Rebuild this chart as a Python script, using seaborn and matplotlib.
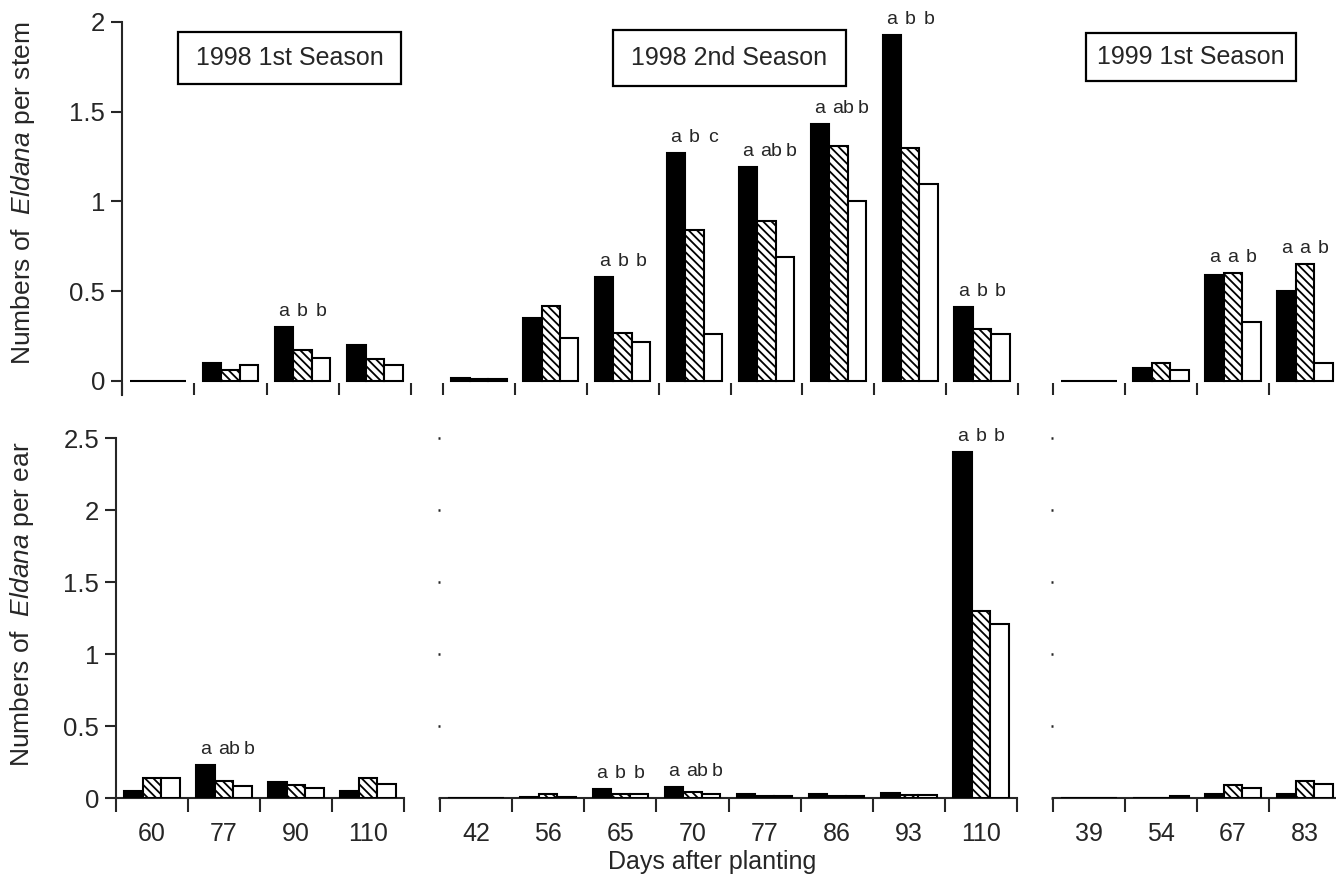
import numpy as np
import pandas as pd
import matplotlib
matplotlib.use("Agg")
import matplotlib.pyplot as plt
import seaborn as sns
from matplotlib.patches import Rectangle

# ---------------- data ----------------
days_98a = ["60", "77", "90", "110"]
days_98b = ["42", "56", "65", "70", "77", "86", "93", "110"]
days_99a = ["39", "54", "67", "83"]
treatments = ["Treatment 1", "Treatment 2", "Treatment 3"]  # black, hatched, white

# Numbers of Eldana per stem
stem_98a_t1 = [0.00, 0.10, 0.30, 0.20]
stem_98a_t2 = [0.00, 0.06, 0.17, 0.12]
stem_98a_t3 = [0.00, 0.09, 0.13, 0.09]

stem_98b_t1 = [0.015, 0.35, 0.58, 1.27, 1.19, 1.43, 1.93, 0.41]
stem_98b_t2 = [0.010, 0.42, 0.27, 0.84, 0.89, 1.31, 1.30, 0.29]
stem_98b_t3 = [0.010, 0.24, 0.22, 0.26, 0.69, 1.00, 1.10, 0.26]

stem_99a_t1 = [0.00, 0.07, 0.59, 0.50]
stem_99a_t2 = [0.00, 0.10, 0.60, 0.65]
stem_99a_t3 = [0.00, 0.06, 0.33, 0.10]

# Numbers of Eldana per ear
ear_98a_t1 = [0.05, 0.23, 0.11, 0.05]
ear_98a_t2 = [0.14, 0.12, 0.09, 0.14]
ear_98a_t3 = [0.14, 0.08, 0.07, 0.10]

ear_98b_t1 = [0.003, 0.005, 0.065, 0.075, 0.025, 0.025, 0.035, 2.40]
ear_98b_t2 = [0.003, 0.025, 0.025, 0.040, 0.015, 0.012, 0.020, 1.30]
ear_98b_t3 = [0.003, 0.010, 0.030, 0.030, 0.015, 0.015, 0.020, 1.21]

ear_99a_t1 = [0.00, 0.00, 0.03, 0.03]
ear_99a_t2 = [0.00, 0.00, 0.09, 0.12]
ear_99a_t3 = [0.00, 0.015, 0.07, 0.10]

# significance letters
letters_stem_98a = {"90": ["a", "b", "b"]}
letters_stem_98b = {"65": ["a", "b", "b"], "70": ["a", "b", "c"], "77": ["a", "ab", "b"],
                    "86": ["a", "ab", "b"], "93": ["a", "b", "b"], "110": ["a", "b", "b"]}
letters_stem_99a = {"67": ["a", "a", "b"], "83": ["a", "a", "b"]}
letters_ear_98a = {"77": ["a", "ab", "b"]}
letters_ear_98b = {"65": ["a", "b", "b"], "70": ["a", "ab", "b"], "110": ["a", "b", "b"]}
letters_ear_99a = {}

season_titles = ["1998 1st Season", "1998 2nd Season", "1999 1st Season"]
ylabel_stem = r"Numbers of  $\mathit{Eldana}$ per stem"
ylabel_ear = r"Numbers of  $\mathit{Eldana}$ per ear"
xlabel = "Days after planting"
stem_ticks = [0, 0.5, 1, 1.5, 2]
stem_ticklabels = ["0", "0.5", "1", "1.5", "2"]
ear_ticks = [0, 0.5, 1, 1.5, 2, 2.5]
ear_ticklabels = ["0", "0.5", "1", "1.5", "2", "2.5"]

# ---------------- style ----------------
sns.set_style("ticks")
plt.rcParams["font.family"] = ["Liberation Sans", "DejaVu Sans"]
plt.rcParams["mathtext.fontset"] = "custom"
plt.rcParams["mathtext.rm"] = "Liberation Sans"
plt.rcParams["mathtext.it"] = "Liberation Sans:italic"
plt.rcParams["hatch.linewidth"] = 1.3
plt.rcParams["axes.linewidth"] = 1.5

W, H = 1336, 877
fig = plt.figure(figsize=(W / 100, H / 100), dpi=100)


def rect(x0, y0, x1, y1):
    return [x0 / W, 1 - y1 / H, (x1 - x0) / W, (y1 - y0) / H]


def make_df(days, t1, t2, t3):
    rows = []
    for name, vals in zip(treatments, [t1, t2, t3]):
        for d, v in zip(days, vals):
            rows.append({"day": d, "value": v, "treatment": name})
    return pd.DataFrame(rows)


def draw(ax, days, t1, t2, t3, letters, ylim, top_row, show_yaxis):
    df = make_df(days, t1, t2, t3)
    sns.barplot(data=df, x="day", y="value", hue="treatment", order=days,
                hue_order=treatments, palette=["black", "white", "white"],
                edgecolor="black", linewidth=1.5, width=0.77, errorbar=None,
                legend=False, ax=ax, zorder=3)
    for p in ax.containers[1].patches:
        p.set_hatch("\\\\\\\\")
    n = len(days)
    ax.set_xlim(-0.5, n - 0.5)
    ax.set_ylim(*ylim)
    ax.set_xlabel("")
    ax.set_ylabel("")
    ax.set_xticks(np.arange(n + 1) - 0.5)
    ax.set_xticklabels([""] * (n + 1))
    for s in ["top", "right"]:
        ax.spines[s].set_visible(False)
    ax.spines["left"].set_visible(show_yaxis)
    if top_row:
        ax.spines["bottom"].set_visible(False)
        ax.tick_params(axis="x", which="major", direction="in", length=9, width=1.5)
        if show_yaxis:
            ax.set_yticks(stem_ticks)
            ax.set_yticklabels(stem_ticklabels)
            ax.tick_params(axis="y", direction="out", length=8, width=1.5, labelsize=18.5, pad=4)
        else:
            ax.set_yticks([])
    else:
        ax.set_xticks(np.arange(n), labels=days, minor=True)
        ax.tick_params(axis="x", which="major", direction="out", length=10, width=1.5)
        ax.tick_params(axis="x", which="minor", length=0, labelsize=18, pad=17)
        ax.set_yticks(ear_ticks)
        if show_yaxis:
            ax.set_yticklabels(ear_ticklabels)
            ax.tick_params(axis="y", direction="out", length=8, width=1.5, labelsize=18.5, pad=4)
        else:
            ax.set_yticklabels([""] * len(ear_ticks))
            ax.tick_params(axis="y", direction="out", length=1.2, width=1.8)
    # significance letters
    for d, labs in letters.items():
        i = days.index(d)
        bars = [ax.containers[k].patches[i] for k in range(3)]
        top = max(b.get_height() for b in bars)
        shifts = [0, 3.5, 4.5] if any(len(l) > 1 for l in labs) else [0, 0, 0]
        for b, lab, dx in zip(bars, labs, shifts):
            ax.annotate(lab, (b.get_x() + b.get_width() / 2, top),
                        xytext=(dx, 5), textcoords="offset points",
                        ha="center", va="bottom", fontsize=14)
    ax.set_facecolor("none")


# top row (per stem)
ax1 = fig.add_axes(rect(122, 22, 411, 395))
ax2 = fig.add_axes(rect(443, 22, 1018, 395))
ax3 = fig.add_axes(rect(1053, 22, 1341, 395))
ylim_top = (-0.078, 2.0)
draw(ax1, days_98a, stem_98a_t1, stem_98a_t2, stem_98a_t3, letters_stem_98a, ylim_top, True, True)
draw(ax2, days_98b, stem_98b_t1, stem_98b_t2, stem_98b_t3, letters_stem_98b, ylim_top, True, False)
draw(ax3, days_99a, stem_99a_t1, stem_99a_t2, stem_99a_t3, letters_stem_99a, ylim_top, True, False)

# bottom row (per ear)
ax4 = fig.add_axes(rect(116, 438, 404, 798))
ax5 = fig.add_axes(rect(440, 438, 1017, 798))
ax6 = fig.add_axes(rect(1053, 438, 1341, 798))
ylim_bot = (0, 2.5)
draw(ax4, days_98a, ear_98a_t1, ear_98a_t2, ear_98a_t3, letters_ear_98a, ylim_bot, False, True)
draw(ax5, days_98b, ear_98b_t1, ear_98b_t2, ear_98b_t3, letters_ear_98b, ylim_bot, False, False)
draw(ax6, days_99a, ear_99a_t1, ear_99a_t2, ear_99a_t3, letters_ear_99a, ylim_bot, False, False)

# season boxes
boxes = [(178, 32, 401, 84), (613, 30, 846, 86), (1086, 33, 1296, 81)]
for (x0, y0, x1, y1), title in zip(boxes, season_titles):
    fig.add_artist(Rectangle((x0 / W, 1 - y1 / H), (x1 - x0) / W, (y1 - y0) / H,
                             transform=fig.transFigure, facecolor="white",
                             edgecolor="black", linewidth=1.6, zorder=5))
    fig.text((x0 + x1) / 2 / W, 1 - (y0 + y1) / 2 / H, title, ha="center",
             va="center", fontsize=18, zorder=6)

# axis labels
fig.text(23 / W, 1 - 193 / H, ylabel_stem, rotation=90, ha="center", va="center", fontsize=19)
fig.text(22 / W, 1 - 604 / H, ylabel_ear, rotation=90, ha="center", va="center", fontsize=19)
fig.text(712 / W, 1 - 874 / H, xlabel, ha="center", va="bottom", fontsize=18)

fig.savefig("out.png", dpi=100, facecolor="white")
